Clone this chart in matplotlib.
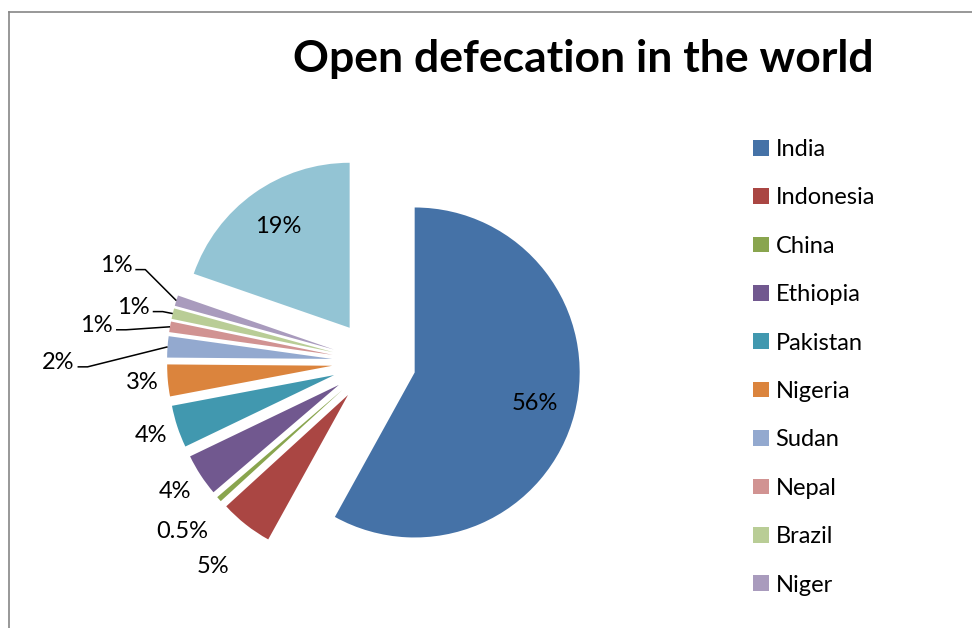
import matplotlib.pyplot as plt
import numpy as np
from matplotlib.lines import Line2D

plt.rcParams["font.family"] = ["Lato", "DejaVu Sans"]

# share of people practising open defecation, by country (%)
countries = ["India", "Indonesia", "China", "Ethiopia", "Pakistan", "Nigeria",
             "Sudan", "Nepal", "Brazil", "Niger"]
shares = [56, 5, 0.5, 4, 4, 3, 2, 1, 1, 1]
rest_share = 19  # all other countries, left out of the legend

colors = ["#4572A7", "#AA4643", "#89A54E", "#71588F", "#4198AF", "#DB843D",
          "#93A9CF", "#D19392", "#B9CD96", "#A99BBD", "#93C4D4"]

# how each percentage label is placed: inside the slice, outside it,
# or off to the side on a leader line (elbow offset from the slice tip, px)
label_style = [
    ("in", 0.75), ("out", 1.58), ("out", 1.55), ("out", 1.44), ("out", 1.42),
    ("out", 1.41), ("leader", (-80, -20)), ("leader", (-44, -3)),
    ("leader", (-10, 2)), ("leader", (-31, 31)), ("in", 0.75),
]

W, H = 972, 628
fig = plt.figure(figsize=(W / 100, H / 100), dpi=100)
ax = fig.add_axes([0, 0, 1, 1])

values = shares + [rest_share]
radius = 165
gap = 42  # every slice is pulled out by the same distance
wedges, _ = ax.pie(values, colors=colors, explode=[gap] * len(values),
                   startangle=90, counterclock=False, radius=radius,
                   center=(374, H - 362), wedgeprops=dict(linewidth=0))
# pie() resets the limits, so work in pixel units afterwards
ax.set_xlim(0, W)
ax.set_ylim(0, H)
ax.set_aspect("equal")
ax.axis("off")

txt_kw = dict(fontsize=17, color="black")
for wedge, val, (mode, arg) in zip(wedges, values, label_style):
    mid = np.deg2rad((wedge.theta1 + wedge.theta2) / 2)
    d = np.array([np.cos(mid), np.sin(mid)])
    c = np.array(wedge.center)
    text = f"{val:g}%"
    if mode == "in":
        x, y = c + d * arg * radius
        ax.text(x, y, text, ha="center", va="center", **txt_kw)
    elif mode == "out":
        x, y = c - d * gap + d * arg * radius
        ax.text(x, y, text, ha="center", va="center", **txt_kw)
    else:
        tip = c + d * radius
        elbow = tip + np.array(arg)
        ax.plot([elbow[0] - 10, elbow[0], tip[0]], [elbow[1], elbow[1], tip[1]],
                color="black", lw=1.1, solid_capstyle="butt")
        ax.text(elbow[0] - 13, elbow[1] + 4, text, ha="right", va="center", **txt_kw)

fig.text(583 / W, 1 - 72 / H, "Open defecation in the world", ha="center",
         va="baseline", fontsize=32, fontweight="bold")

fig.legend(wedges[:len(countries)], countries, loc="upper left",
           bbox_to_anchor=(753 / W, 1 - 139 / H), frameon=False, fontsize=17,
           handlelength=0.68, handleheight=0.64, handletextpad=0.27,
           labelspacing=1.16, borderaxespad=0, borderpad=0)

# chart area frame, only top and left edges fall inside the canvas
fig.add_artist(Line2D([8.5 / W, 1], [1 - 11.5 / H] * 2, color="#868686", lw=1.2))
fig.add_artist(Line2D([8.5 / W] * 2, [0, 1 - 11.5 / H], color="#868686", lw=1.2))

fig.savefig("out.png", dpi=100)
